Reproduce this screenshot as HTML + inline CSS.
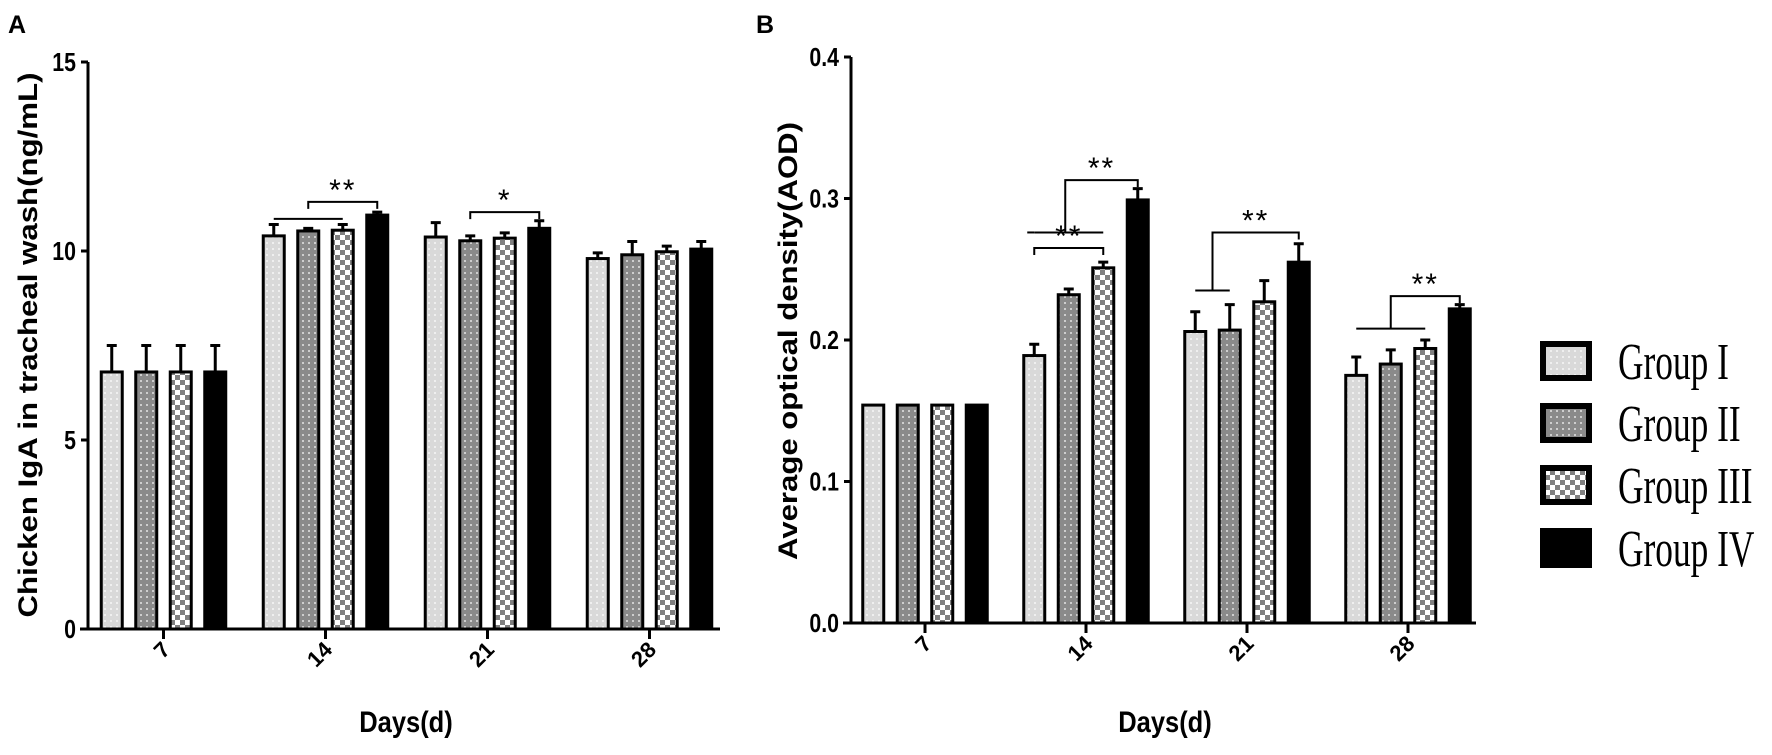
<!DOCTYPE html>
<html><head><meta charset="utf-8"><style>
html,body{margin:0;padding:0;background:#fff;}
svg{display:block;}
text{font-family:"Liberation Sans",sans-serif;}
</style></head>
<body>
<svg id="fig" width="1772" height="755" viewBox="0 0 1772 755" xmlns="http://www.w3.org/2000/svg">
<defs>
<pattern id="pI" width="6" height="6" patternUnits="userSpaceOnUse"><rect width="6" height="6" fill="#d9d9d9"/><circle cx="3" cy="3" r="0.9" fill="#fff"/></pattern>
<pattern id="pII" width="6" height="6" patternUnits="userSpaceOnUse"><rect width="6" height="6" fill="#8a8a8a"/><circle cx="3" cy="3" r="0.9" fill="#fff"/></pattern>
<pattern id="pIII" width="10" height="10" patternUnits="userSpaceOnUse"><rect width="10" height="10" fill="#fff"/><rect x="0" y="0" width="5" height="5" fill="#808080"/><rect x="5" y="5" width="5" height="5" fill="#808080"/></pattern>
</defs>
<g id="gA"></g>
<g id="gB"></g>
<g id="legend"></g>
</svg>
<script>
const categories = ["7","14","21","28"];
const groups = ["Group I","Group II","Group III","Group IV"];
// Chart A: Chicken IgA (ng/mL)
const aG1 = [6.8, 10.4, 10.37, 9.8];
const aG2 = [6.8, 10.53, 10.27, 9.9];
const aG3 = [6.8, 10.55, 10.34, 9.98];
const aG4 = [6.8, 10.95, 10.6, 10.05];
const aE1 = [0.7, 0.3, 0.38, 0.15];
const aE2 = [0.7, 0.07, 0.13, 0.35];
const aE3 = [0.7, 0.15, 0.14, 0.15];
const aE4 = [0.7, 0.08, 0.2, 0.2];
const aTicks = [0,5,10,15];
// Chart B: AOD
const bG1 = [0.154, 0.189, 0.206, 0.175];
const bG2 = [0.154, 0.232, 0.207, 0.183];
const bG3 = [0.154, 0.251, 0.227, 0.194];
const bG4 = [0.154, 0.299, 0.255, 0.222];
const bE1 = [0, 0.008, 0.014, 0.013];
const bE2 = [0, 0.004, 0.018, 0.01];
const bE3 = [0, 0.004, 0.015, 0.006];
const bE4 = [0, 0.008, 0.013, 0.003];
const bTicks = ["0.0","0.1","0.2","0.3","0.4"];

const NS="http://www.w3.org/2000/svg";
const fills=["url(#pI)","url(#pII)","url(#pIII)","#000"];
function mk(tag,attrs,parent){const e=document.createElementNS(NS,tag);for(const k in attrs)e.setAttribute(k,attrs[k]);parent.appendChild(e);return e;}

function drawChart(g,cfg){
  const {x0,x1,yAxisX,y,xc,vals,errs,ticks,tickVals,title,titleX,titleY,titleLen,label,labelX}=cfg;
  const off=[-51.75,-17.25,17.25,51.75];
  // bars
  for(let c=0;c<categories.length;c++){
    for(let s=0;s<4;s++){
      const v=vals[s][c], cx=xc(c)+off[s], top=y(v), base=y(0);
      const r=mk('rect',{x:cx-10.5,y:top,width:21,height:base-top,fill:fills[s],stroke:'#000','stroke-width':3},g);
      
      
      const e=errs[s][c];
      if(e>0){
        const et=y(v+e);
        const l=mk('path',{d:`M${cx} ${top}V${et}M${cx-5} ${et}H${cx+5}`,stroke:'#000','stroke-width':3,fill:'none'},g);
        
        
      }
    }
  }
  // axes
  const ax=mk('path',{d:`M${yAxisX} ${y(tickVals[tickVals.length-1])}V${y(0)}M${x0} ${y(0)}H${x1}`,stroke:'#000','stroke-width':3,fill:'none'},g);
  
  
  tickVals.forEach((tv,i)=>{
    mk('path',{d:`M${yAxisX-7} ${y(tv)}H${yAxisX}`,stroke:'#000','stroke-width':3},g);
    const t=mk('text',{x:yAxisX-12,y:y(tv)+9,'text-anchor':'end','font-size':26,'font-weight':'bold',transform:`translate(${yAxisX-12} 0) scale(0.82 1) translate(${-(yAxisX-12)} 0)`},g);
    t.textContent=ticks[i];
    
    
  });
  categories.forEach((c,i)=>{
    const x=xc(i);
    mk('path',{d:`M${x} ${y(0)}V${y(0)+10}`,stroke:'#000','stroke-width':3},g);
    const t=mk('text',{x:0,y:0,'text-anchor':'end','font-size':22,'font-weight':'bold',transform:`translate(${x+8} ${y(0)+22}) rotate(-45)`},g);
    t.textContent=c;
    
    
  });
  const xt=mk('text',{x:cfg.xTitleX,y:732,'text-anchor':'middle','font-size':30,'font-weight':'bold',transform:`translate(${cfg.xTitleX} 0) scale(0.85 1) translate(${-cfg.xTitleX} 0)`},g);
  xt.textContent='Days(d)';
  
  
  const yt=mk('text',{x:0,y:0,'text-anchor':'middle','font-size':27,'font-weight':'bold',textLength:titleLen,lengthAdjust:'spacingAndGlyphs',transform:`translate(${titleX} ${titleY}) rotate(-90)`},g);
  yt.textContent=title;
  
  
  const pl=mk('text',{x:labelX,y:33,'font-size':25,'font-weight':'bold'},g);
  pl.textContent=label;
  
  
}

const yA=v=>629-v*37.8;
const xA=i=>163.5+i*162;
const yB=v=>623-v*1415;
const xB=i=>925+i*161;
const gA=document.getElementById('gA'), gB=document.getElementById('gB');
drawChart(gA,{x0:80,x1:720,yAxisX:88,y:yA,xc:xA,vals:[aG1,aG2,aG3,aG4],errs:[aE1,aE2,aE3,aE4],ticks:aTicks.map(String),tickVals:aTicks,title:'Chicken IgA in tracheal wash(ng/mL)',titleX:37,titleY:345,titleLen:545,label:'A',labelX:8,xTitleX:406});
drawChart(gB,{x0:843,x1:1476,yAxisX:851,y:yB,xc:xB,vals:[bG1,bG2,bG3,bG4],errs:[bE1,bE2,bE3,bE4],ticks:bTicks,tickVals:bTicks.map(Number),title:'Average optical density(AOD)',titleX:797,titleY:341,titleLen:438,label:'B',labelX:756,xTitleX:1165});

// significance annotations: [chart, category, fromBarA, toBarA (plain line, -1 none), bracketFrom(bar index or mid), toBar, lineVal, bracketVal, stars]
const off=[-51.75,-17.25,17.25,51.75];
function sig(g,xc,y,c,lineFrom,lineTo,lineVal,brFromX,brTo,brVal,stars,leftDrop){
  const ytop=y(brVal);
  let d='';
  if(lineFrom>=0){d+=`M${xc(c)+off[lineFrom]} ${y(lineVal)}H${xc(c)+off[lineTo]}`;}
  const xl=brFromX, xr=xc(c)+off[brTo];
  d+=`M${xl} ${leftDrop}V${ytop}H${xr}V${ytop+7}`;
  const p=mk('path',{d:d,stroke:'#000','stroke-width':2,fill:'none'},g);
  
  
  const t=mk('text',{x:(xl+xr)/2,y:ytop-2,'text-anchor':'middle','font-size':30,'letter-spacing':'2'},g);
  t.textContent=stars;
  
  
}
// A day14
sig(gA,xA,yA,1,0,2,10.85,(xA(1)+off[0]+xA(1)+off[2])/2,3,11.3,'**',yA(11.3)+7);
// A day21
sig(gA,xA,yA,2,-1,-1,0,xA(2)+off[1],3,11.03,'*',yA(11.03)+7);
// B day14 lower
sig(gB,xB,yB,1,-1,-1,0,xB(1)+off[0],2,0.265,'**',yB(0.265)+7);
// B day14 upper
sig(gB,xB,yB,1,0,2,0.276,(xB(1)+off[0]-7+xB(1)+off[2])/2,3,0.313,'**',yB(0.276));
// B day21
sig(gB,xB,yB,2,0,1,0.235,(xB(2)+off[0]+xB(2)+off[1])/2,3,0.276,'**',yB(0.235));
// B day28
sig(gB,xB,yB,3,0,2,0.208,(xB(3)+off[0]+xB(3)+off[2])/2,3,0.231,'**',yB(0.208));
// extend B14 line a bit left
{const p=mk('path',{d:`M${xB(1)+off[0]-7} ${yB(0.276)}H${xB(1)+off[0]}`,stroke:'#000','stroke-width':2},gB);}

// legend
const lg=document.getElementById('legend');
const legY=[341,403,465,528];
groups.forEach((name,i)=>{
  const r=mk('rect',{x:1543,y:legY[i]+3,width:46,height:34,fill:fills[i],stroke:'#000','stroke-width':6},lg);
  
  
  const t=mk('text',{x:0,y:0,'font-size':52,'font-family':'"Liberation Serif",serif',transform:`translate(1618 ${legY[i]+38}) scale(0.68 1)`},lg);
  t.setAttribute('style','font-family:"Liberation Serif",serif');
  t.textContent=name;
  
  
});
</script>
</body></html>
